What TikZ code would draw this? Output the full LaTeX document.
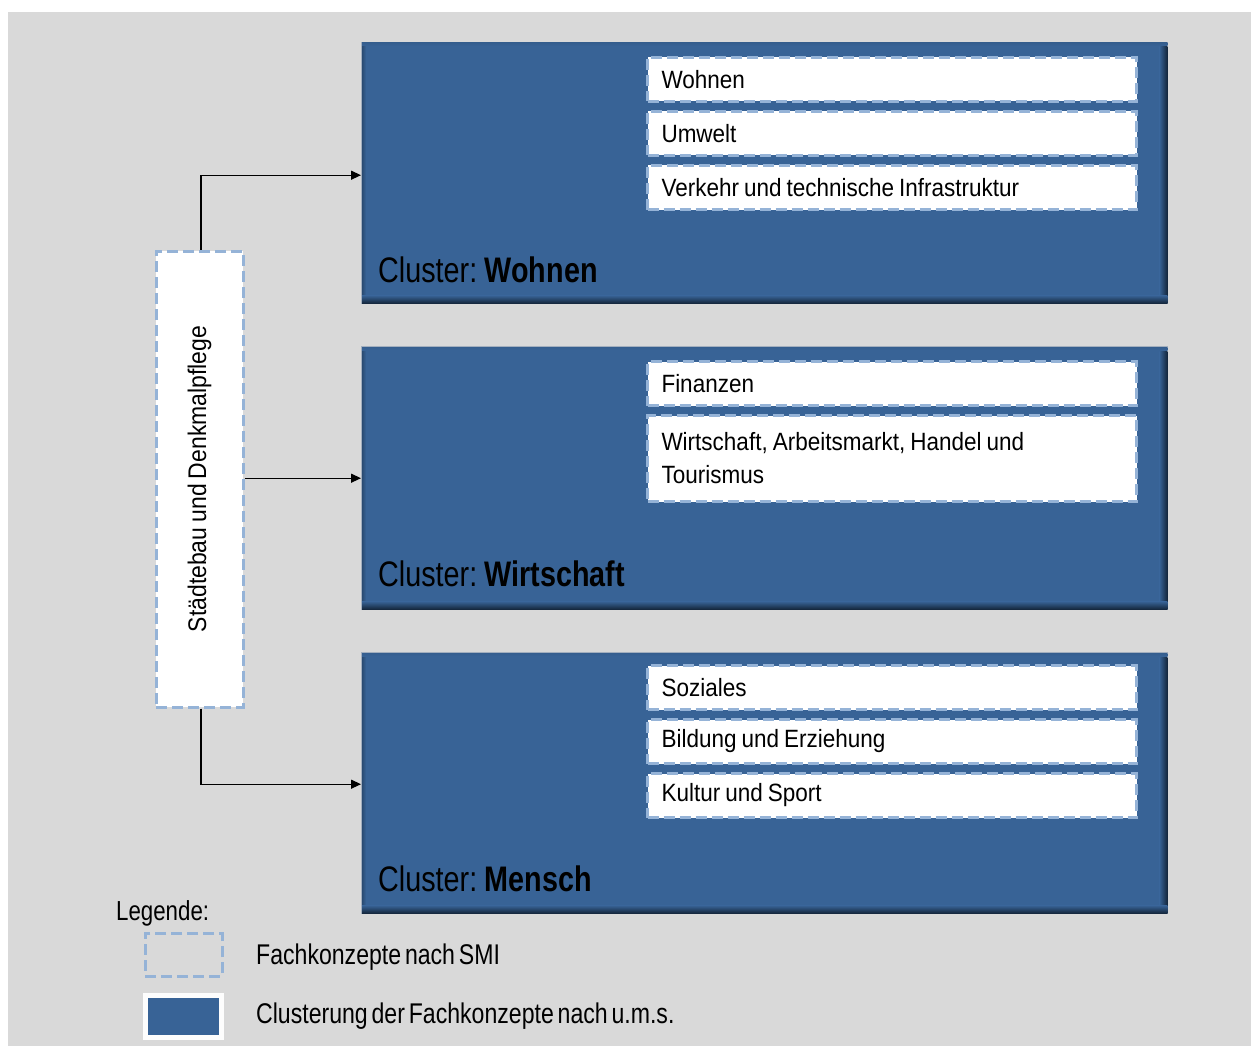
\documentclass[tikz,border=0pt]{standalone}
\usepackage{fontspec}
\setmainfont{Liberation Sans}[FakeStretch=0.9,WordSpace=0.8]
\newfontfamily\narrowfont{Liberation Sans}[FakeStretch=0.81,WordSpace=0.6]
\usetikzlibrary{arrows.meta,calc}
\definecolor{bggray}{HTML}{D9D9D9}
\definecolor{clblue}{HTML}{386396}
\definecolor{clmid}{HTML}{2A4B72}
\definecolor{cldark}{HTML}{14263B}
\definecolor{clrim}{HTML}{A3AFBE}
\definecolor{dashblue}{HTML}{95B3D7}
\tikzset{
  cluster/.style={draw=none, fill=none, minimum width=807pt, anchor=north west, inner sep=0pt},
  dashedge/.style={draw=dashblue, line width=3pt, dash pattern=on 11pt off 5pt},
  sub/.style={dashedge, fill=white,
    minimum width=489pt, text width=461pt, inner xsep=14pt, align=flush left, anchor=north west,
    font=\fontsize{25}{33}\selectfont},
  clabel/.style={anchor=west, font=\narrowfont\fontsize{35.5}{40}\selectfont, inner sep=0pt},
  legtext/.style={anchor=west, font=\narrowfont\fontsize{28.5}{32}\selectfont, inner sep=0pt},
  conn/.style={line width=1.3pt, -{Triangle[length=10pt,width=9pt]}},
}
% bevelled blue panel drawn over a named cluster node
\newcommand{\bevelpanel}[1]{%
  \fill[clrim] (#1.north west) rectangle (#1.south east);
  \fill[clblue] ($(#1.north west)+(1,1)$) rectangle ($(#1.south east)+(-1,-1)$);
  % left and top edges, slightly darker
  \shade[left color=clmid, right color=clblue] ($(#1.north west)+(1,1)$) rectangle ($(#1.south west)+(5,-1)$);
  \shade[top color=clblue!80!clmid, bottom color=clblue] ($(#1.north west)+(1,1)$) rectangle ($(#1.north east)+(-1,4)$);
  % right and bottom edges, dark
  \shade[left color=clblue, right color=cldark] ($(#1.north east)+(-9,5)$) rectangle ($(#1.south east)+(-1,-1)$);
  \shade[top color=clblue, bottom color=cldark] ($(#1.south west)+(1,-9)$) rectangle ($(#1.south east)+(-1,-1)$);
}
\begin{document}
\begin{tikzpicture}[x=1pt,y=-1pt]
\useasboundingbox (0,0) rectangle (1251,1046);
\fill[bggray] (8,12) rectangle (1251,1046);

% cluster panels
\node[cluster, minimum height=262pt] (cw) at (361,42) {};
\node[cluster, minimum height=264pt] (cx) at (361,346) {};
\node[cluster, minimum height=262pt] (cm) at (361,652) {};
\bevelpanel{cw}
\bevelpanel{cx}
\bevelpanel{cm}

\node[clabel] (lw) at (378,270) {Cluster: \textbf{Wohnen}};
\node[clabel] (lx) at (378,574) {Cluster: \textbf{Wirtschaft}};
\node[clabel] (lm) at (378,879) {Cluster: \textbf{Mensch}};

% specialist concepts inside the clusters
\node[sub, minimum height=44pt] (s1) at (646,56) {Wohnen};
\node[sub, minimum height=44pt] (s2) at (646,110) {Umwelt};
\node[sub, minimum height=44pt] (s3) at (646,164) {Verkehr und technische Infrastruktur};
\node[sub, minimum height=44pt] (s4) at (646,360) {Finanzen};
\node[sub, minimum height=86pt] (s5) at (646,414) {Wirtschaft, Arbeitsmarkt, Handel und\\Tourismus};
\node[sub, minimum height=44pt] (s6) at (646,664) {Soziales};
\node[sub, minimum height=44pt] (s7) at (646,718) {Bildung und Erziehung};
\node[sub, minimum height=44pt] (s8) at (646,772) {Kultur und Sport};

% cross-cutting concept
\node[dashedge, fill=white, minimum width=87pt, minimum height=456pt, inner sep=0pt] (sd) at (199.5,479) {};
\node[rotate=90, font=\fontsize{25.5}{30}\selectfont] (sdt) at (sd.center) {Städtebau und Denkmalpflege};

% connectors
\draw[conn] ([xshift=1.5pt]sd.north) |- ([yshift=-2pt]cw.west);
\draw[conn] (sd.east |- cx.west) -- (cx.west);
\draw[conn] ([xshift=1.5pt]sd.south) |- ([yshift=-1pt]cm.west);

% legend
\node[legtext, font=\narrowfont\fontsize{27.5}{30}\selectfont] (lg) at (116,913) {Legende:};
\node[dashedge, minimum width=77pt, minimum height=43pt, inner sep=0pt] (k1) at (183.5,954.5) {};
\node[fill=white!95!bggray, minimum width=81pt, minimum height=47pt, inner sep=0pt] (k2) at (183.5,1016.5) {};
\fill[clblue] ($(k2.north west)+(5,5)$) rectangle ($(k2.south east)+(-5,-5)$);
\node[legtext] (t1) at (256,957) {Fachkonzepte nach SMI};
\node[legtext] (t2) at (256,1016) {Clusterung der Fachkonzepte nach u.m.s.};
\end{tikzpicture}
\end{document}
